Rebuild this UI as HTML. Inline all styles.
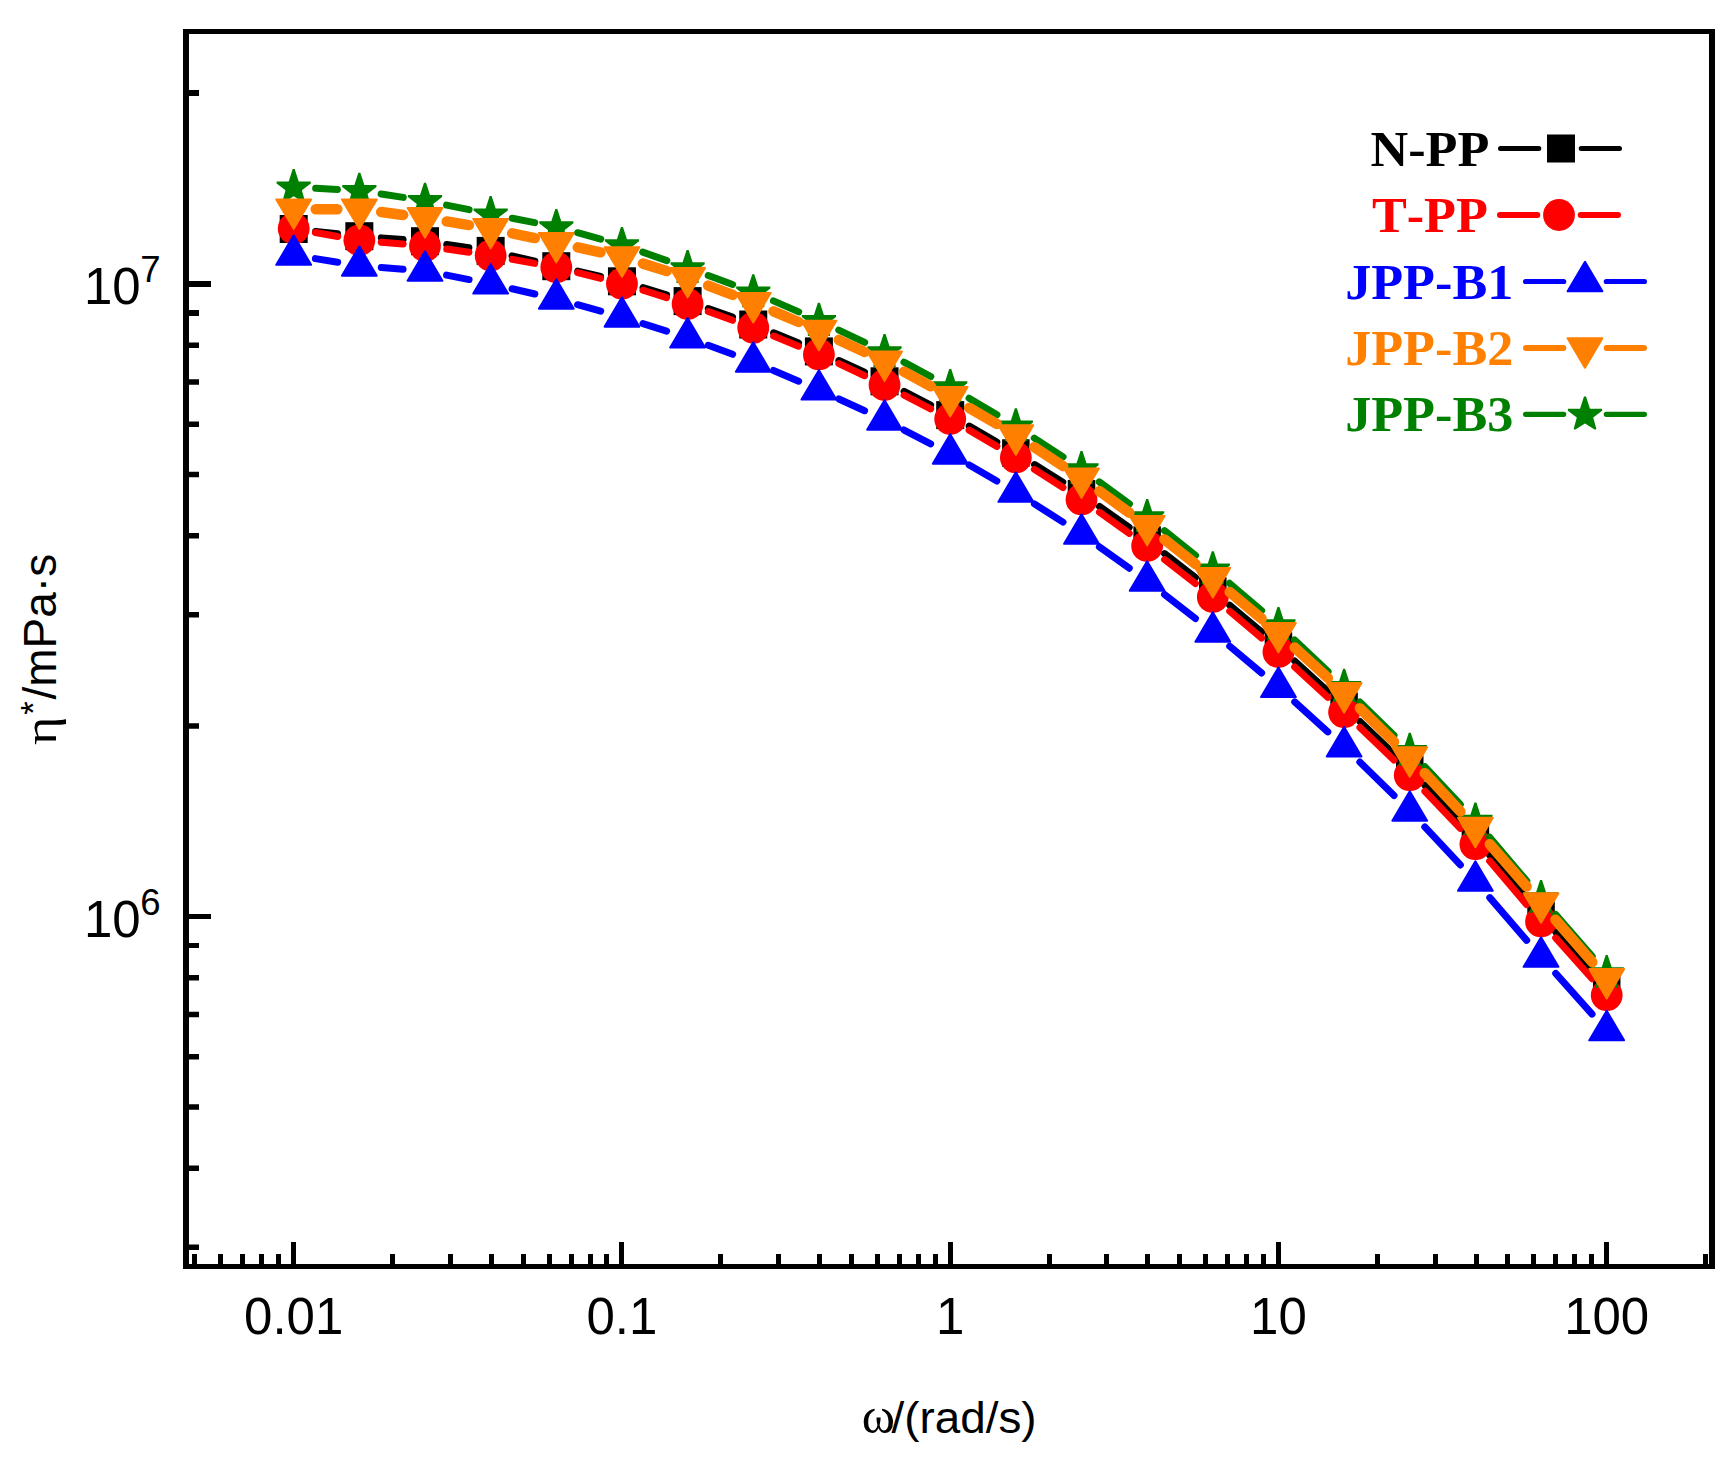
<!DOCTYPE html>
<html><head><meta charset="utf-8"><title>Complex viscosity vs angular frequency</title>
<style>html,body{margin:0;padding:0;background:#fff}svg{display:block}</style></head>
<body><svg width="1736" height="1466" viewBox="0 0 1736 1466">
<rect width="1736" height="1466" fill="#fff"/>
<path d="M315.57 231.4L337.48 233.8M381.29 237.87L403.06 239.53M446.76 244.42L468.89 247.68M512.08 255.89L534.87 261.21M577.74 271.13L600.51 276.37M643.01 287.65L666.54 294.75M708.32 308.49L732.53 317.11M773.61 332.84L798.54 343.06M838.92 360.52L864.53 372.18M904.11 391.37L930.64 405.03M969.25 426.1L996.8 442M1034.55 464.59L1062.8 482.11M1099.47 506.4L1129.18 527.4M1164.54 553.58L1195.41 577.52M1229.65 605.14L1261.6 631.96M1294.68 660.96L1327.87 691.34M1359.96 721.45L1393.89 754.05M1424.91 785.24L1460.24 822.36M1489.66 855.05L1526.79 898.65M1555.67 931.84L1592.08 972.76" stroke="#000000" stroke-width="7" stroke-linecap="round" fill="none"/>
<rect x="279.7" y="215" width="28" height="28" fill="#000000"/><rect x="345.35" y="222.2" width="28" height="28" fill="#000000"/><rect x="411" y="227.2" width="28" height="28" fill="#000000"/><rect x="476.65" y="236.9" width="28" height="28" fill="#000000"/><rect x="542.3" y="252.2" width="28" height="28" fill="#000000"/><rect x="607.95" y="267.3" width="28" height="28" fill="#000000"/><rect x="673.6" y="287.1" width="28" height="28" fill="#000000"/><rect x="739.25" y="310.5" width="28" height="28" fill="#000000"/><rect x="804.9" y="337.4" width="28" height="28" fill="#000000"/><rect x="870.55" y="367.3" width="28" height="28" fill="#000000"/><rect x="936.2" y="401.1" width="28" height="28" fill="#000000"/><rect x="1002.1" y="439.25" width="27.5" height="27.5" fill="#000000"/><rect x="1067.75" y="479.95" width="27.5" height="27.5" fill="#000000"/><rect x="1133.4" y="526.35" width="27.5" height="27.5" fill="#000000"/><rect x="1199.05" y="577.25" width="27.5" height="27.5" fill="#000000"/><rect x="1264.7" y="632.35" width="27.5" height="27.5" fill="#000000"/><rect x="1330.35" y="692.45" width="27.5" height="27.5" fill="#000000"/><rect x="1396" y="755.55" width="27.5" height="27.5" fill="#000000"/><rect x="1461.65" y="824.55" width="27.5" height="27.5" fill="#000000"/><rect x="1527.3" y="901.65" width="27.5" height="27.5" fill="#000000"/><rect x="1592.95" y="975.45" width="27.5" height="27.5" fill="#000000"/>
<path d="M315.36 232.46L337.69 236.44M381.27 242.17L403.08 244.03M446.77 249.05L468.88 252.25M512.3 259.32L534.65 263.38M577.64 272.63L600.61 278.37M642.96 290.23L666.59 297.57M708.29 311.57L732.56 320.33M773.64 336.06L798.51 346.14M838.84 363.69L864.61 375.71M904.09 395.12L930.66 408.88M969.18 430.13L996.87 446.37M1034.39 469.34L1062.96 487.56M1099.43 512.15L1129.22 533.35M1164.54 559.58L1195.41 583.52M1229.65 611.14L1261.6 637.96M1294.68 666.96L1327.87 697.34M1359.96 727.45L1393.89 760.05M1424.91 791.24L1460.24 828.36M1489.66 861.05L1526.79 904.65M1555.67 937.84L1592.08 978.76" stroke="#ff0000" stroke-width="7" stroke-linecap="round" fill="none"/>
<circle cx="293.7" cy="228.6" r="15.9" fill="#ff0000"/><circle cx="359.35" cy="240.3" r="15.9" fill="#ff0000"/><circle cx="425" cy="245.9" r="15.9" fill="#ff0000"/><circle cx="490.65" cy="255.4" r="15.9" fill="#ff0000"/><circle cx="556.3" cy="267.3" r="15.9" fill="#ff0000"/><circle cx="621.95" cy="283.7" r="15.9" fill="#ff0000"/><circle cx="687.6" cy="304.1" r="15.9" fill="#ff0000"/><circle cx="753.25" cy="327.8" r="15.9" fill="#ff0000"/><circle cx="818.9" cy="354.4" r="15.9" fill="#ff0000"/><circle cx="884.55" cy="385" r="15.9" fill="#ff0000"/><circle cx="950.2" cy="419" r="15.9" fill="#ff0000"/><circle cx="1015.85" cy="457.5" r="15.9" fill="#ff0000"/><circle cx="1081.5" cy="499.4" r="15.9" fill="#ff0000"/><circle cx="1147.15" cy="546.1" r="15.9" fill="#ff0000"/><circle cx="1212.8" cy="597" r="15.9" fill="#ff0000"/><circle cx="1278.45" cy="652.1" r="15.9" fill="#ff0000"/><circle cx="1344.1" cy="712.2" r="15.9" fill="#ff0000"/><circle cx="1409.75" cy="775.3" r="15.9" fill="#ff0000"/><circle cx="1475.4" cy="844.3" r="15.9" fill="#ff0000"/><circle cx="1541.05" cy="921.4" r="15.9" fill="#ff0000"/><circle cx="1606.7" cy="995.2" r="15.9" fill="#ff0000"/>
<path d="M315.4 258.6L337.65 262.3M381.29 267.57L403.06 269.23M446.59 275.14L469.06 279.56M512.09 288.73L534.86 293.97M577.52 304.72L600.73 311.08M642.92 323.54L666.63 331.06M708.24 345.31L732.61 354.29M773.5 370.5L798.65 381.2M838.9 398.97L864.55 410.73M904.09 430.02L930.66 443.78M969.23 464.94L996.82 480.96M1034.38 503.86L1062.97 522.14M1099.39 546.81L1129.26 568.19M1164.52 594.5L1195.43 618.5M1229.65 646.14L1261.6 672.96M1294.74 701.89L1327.81 731.91M1359.83 762.08L1394.02 795.52M1424.79 826.96L1460.36 864.94M1489.78 897.65L1526.67 940.35M1555.71 973.41L1592.04 1014.09" stroke="#0000ff" stroke-width="7" stroke-linecap="round" fill="none"/>
<path d="M276.3 264.8L311.1 264.8L293.7 235.36Z" fill="#0000ff" stroke="#0000ff" stroke-width="2" stroke-linejoin="round"/><path d="M341.95 275.7L376.75 275.7L359.35 246.26Z" fill="#0000ff" stroke="#0000ff" stroke-width="2" stroke-linejoin="round"/><path d="M407.6 280.7L442.4 280.7L425 251.26Z" fill="#0000ff" stroke="#0000ff" stroke-width="2" stroke-linejoin="round"/><path d="M473.25 293.6L508.05 293.6L490.65 264.16Z" fill="#0000ff" stroke="#0000ff" stroke-width="2" stroke-linejoin="round"/><path d="M538.9 308.7L573.7 308.7L556.3 279.26Z" fill="#0000ff" stroke="#0000ff" stroke-width="2" stroke-linejoin="round"/><path d="M604.55 326.7L639.35 326.7L621.95 297.26Z" fill="#0000ff" stroke="#0000ff" stroke-width="2" stroke-linejoin="round"/><path d="M670.2 347.5L705 347.5L687.6 318.06Z" fill="#0000ff" stroke="#0000ff" stroke-width="2" stroke-linejoin="round"/><path d="M735.85 371.7L770.65 371.7L753.25 342.26Z" fill="#0000ff" stroke="#0000ff" stroke-width="2" stroke-linejoin="round"/><path d="M801.5 399.6L836.3 399.6L818.9 370.16Z" fill="#0000ff" stroke="#0000ff" stroke-width="2" stroke-linejoin="round"/><path d="M867.15 429.7L901.95 429.7L884.55 400.26Z" fill="#0000ff" stroke="#0000ff" stroke-width="2" stroke-linejoin="round"/><path d="M932.8 463.7L967.6 463.7L950.2 434.26Z" fill="#0000ff" stroke="#0000ff" stroke-width="2" stroke-linejoin="round"/><path d="M998.45 501.8L1033.25 501.8L1015.85 472.36Z" fill="#0000ff" stroke="#0000ff" stroke-width="2" stroke-linejoin="round"/><path d="M1064.1 543.8L1098.9 543.8L1081.5 514.36Z" fill="#0000ff" stroke="#0000ff" stroke-width="2" stroke-linejoin="round"/><path d="M1129.75 590.8L1164.55 590.8L1147.15 561.36Z" fill="#0000ff" stroke="#0000ff" stroke-width="2" stroke-linejoin="round"/><path d="M1195.4 641.8L1230.2 641.8L1212.8 612.36Z" fill="#0000ff" stroke="#0000ff" stroke-width="2" stroke-linejoin="round"/><path d="M1261.05 696.9L1295.85 696.9L1278.45 667.46Z" fill="#0000ff" stroke="#0000ff" stroke-width="2" stroke-linejoin="round"/><path d="M1326.7 756.5L1361.5 756.5L1344.1 727.06Z" fill="#0000ff" stroke="#0000ff" stroke-width="2" stroke-linejoin="round"/><path d="M1392.35 820.7L1427.15 820.7L1409.75 791.26Z" fill="#0000ff" stroke="#0000ff" stroke-width="2" stroke-linejoin="round"/><path d="M1458 890.8L1492.8 890.8L1475.4 861.36Z" fill="#0000ff" stroke="#0000ff" stroke-width="2" stroke-linejoin="round"/><path d="M1523.65 966.8L1558.45 966.8L1541.05 937.36Z" fill="#0000ff" stroke="#0000ff" stroke-width="2" stroke-linejoin="round"/><path d="M1589.3 1040.3L1624.1 1040.3L1606.7 1010.86Z" fill="#0000ff" stroke="#0000ff" stroke-width="2" stroke-linejoin="round"/>
<path d="M315.67 188.24L337.38 189.46M381.1 194.01L403.25 197.39M446.56 205.07L469.09 209.63M512.24 218.24L534.71 222.66M577.52 232.72L600.73 239.08M642.71 252.17L666.84 260.63M708.24 275.51L732.61 284.49M773.42 300.89L798.73 311.91M838.78 330.12L864.67 342.38M903.95 362.17L930.8 376.53M969.09 398.18L996.96 414.82M1034.28 438.11L1063.07 456.89M1099.26 481.88L1129.39 503.92M1164.37 530.59L1195.58 555.41M1229.58 583.33L1261.67 610.57M1294.46 639.89L1328.09 671.61M1359.85 702.06L1394 735.34M1424.83 766.71L1460.32 804.39M1489.63 837.18L1526.82 881.02M1555.54 914.35L1592.21 956.25" stroke="#008000" stroke-width="7" stroke-linecap="round" fill="none"/>
<polygon points="294.7,169.1 298.7,181.4 310.8,181.4 310.8,183.4 301.9,190.3 305,201.4 304.5,202.2 303.3,202.2 293.7,196.3 284.1,202.2 282.9,202.2 282.4,201.4 285.5,190.3 276.6,183.4 276.6,181.4 288.7,181.4 292.7,169.1" fill="#008000"/><polygon points="360.35,172.8 364.35,185.1 376.45,185.1 376.45,187.1 367.55,194 370.65,205.1 370.15,205.9 368.95,205.9 359.35,200 349.75,205.9 348.55,205.9 348.05,205.1 351.15,194 342.25,187.1 342.25,185.1 354.35,185.1 358.35,172.8" fill="#008000"/><polygon points="426,182.8 430,195.1 442.1,195.1 442.1,197.1 433.2,204 436.3,215.1 435.8,215.9 434.6,215.9 425,210 415.4,215.9 414.2,215.9 413.7,215.1 416.8,204 407.9,197.1 407.9,195.1 420,195.1 424,182.8" fill="#008000"/><polygon points="491.65,196.1 495.65,208.4 507.75,208.4 507.75,210.4 498.85,217.3 501.95,228.4 501.45,229.2 500.25,229.2 490.65,223.3 481.05,229.2 479.85,229.2 479.35,228.4 482.45,217.3 473.55,210.4 473.55,208.4 485.65,208.4 489.65,196.1" fill="#008000"/><polygon points="557.3,209 561.3,221.3 573.4,221.3 573.4,223.3 564.5,230.2 567.6,241.3 567.1,242.1 565.9,242.1 556.3,236.2 546.7,242.1 545.5,242.1 545,241.3 548.1,230.2 539.2,223.3 539.2,221.3 551.3,221.3 555.3,209" fill="#008000"/><polygon points="622.95,227 626.95,239.3 639.05,239.3 639.05,241.3 630.15,248.2 633.25,259.3 632.75,260.1 631.55,260.1 621.95,254.2 612.35,260.1 611.15,260.1 610.65,259.3 613.75,248.2 604.85,241.3 604.85,239.3 616.95,239.3 620.95,227" fill="#008000"/><polygon points="688.6,250 692.6,262.3 704.7,262.3 704.7,264.3 695.8,271.2 698.9,282.3 698.4,283.1 697.2,283.1 687.6,277.2 678,283.1 676.8,283.1 676.3,282.3 679.4,271.2 670.5,264.3 670.5,262.3 682.6,262.3 686.6,250" fill="#008000"/><polygon points="754.25,274.2 758.25,286.5 770.35,286.5 770.35,288.5 761.45,295.4 764.55,306.5 764.05,307.3 762.85,307.3 753.25,301.4 743.65,307.3 742.45,307.3 741.95,306.5 745.05,295.4 736.15,288.5 736.15,286.5 748.25,286.5 752.25,274.2" fill="#008000"/><polygon points="819.9,302.8 823.9,315.1 836,315.1 836,317.1 827.1,324 830.2,335.1 829.7,335.9 828.5,335.9 818.9,330 809.3,335.9 808.1,335.9 807.6,335.1 810.7,324 801.8,317.1 801.8,315.1 813.9,315.1 817.9,302.8" fill="#008000"/><polygon points="885.55,333.9 889.55,346.2 901.65,346.2 901.65,348.2 892.75,355.1 895.85,366.2 895.35,367 894.15,367 884.55,361.1 874.95,367 873.75,367 873.25,366.2 876.35,355.1 867.45,348.2 867.45,346.2 879.55,346.2 883.55,333.9" fill="#008000"/><polygon points="951.2,369 955.2,381.3 967.3,381.3 967.3,383.3 958.4,390.2 961.5,401.3 961,402.1 959.8,402.1 950.2,396.2 940.6,402.1 939.4,402.1 938.9,401.3 942,390.2 933.1,383.3 933.1,381.3 945.2,381.3 949.2,369" fill="#008000"/><polygon points="1016.85,408.2 1020.85,420.5 1032.95,420.5 1032.95,422.5 1024.05,429.4 1027.15,440.5 1026.65,441.3 1025.45,441.3 1015.85,435.4 1006.25,441.3 1005.05,441.3 1004.55,440.5 1007.65,429.4 998.75,422.5 998.75,420.5 1010.85,420.5 1014.85,408.2" fill="#008000"/><polygon points="1082.5,451 1086.5,463.3 1098.6,463.3 1098.6,465.3 1089.7,472.2 1092.8,483.3 1092.3,484.1 1091.1,484.1 1081.5,478.2 1071.9,484.1 1070.7,484.1 1070.2,483.3 1073.3,472.2 1064.4,465.3 1064.4,463.3 1076.5,463.3 1080.5,451" fill="#008000"/><polygon points="1148.15,499 1152.15,511.3 1164.25,511.3 1164.25,513.3 1155.35,520.2 1158.45,531.3 1157.95,532.1 1156.75,532.1 1147.15,526.2 1137.55,532.1 1136.35,532.1 1135.85,531.3 1138.95,520.2 1130.05,513.3 1130.05,511.3 1142.15,511.3 1146.15,499" fill="#008000"/><polygon points="1213.8,551.2 1217.8,563.5 1229.9,563.5 1229.9,565.5 1221,572.4 1224.1,583.5 1223.6,584.3 1222.4,584.3 1212.8,578.4 1203.2,584.3 1202,584.3 1201.5,583.5 1204.6,572.4 1195.7,565.5 1195.7,563.5 1207.8,563.5 1211.8,551.2" fill="#008000"/><polygon points="1279.45,606.9 1283.45,619.2 1295.55,619.2 1295.55,621.2 1286.65,628.1 1289.75,639.2 1289.25,640 1288.05,640 1278.45,634.1 1268.85,640 1267.65,640 1267.15,639.2 1270.25,628.1 1261.35,621.2 1261.35,619.2 1273.45,619.2 1277.45,606.9" fill="#008000"/><polygon points="1345.1,668.8 1349.1,681.1 1361.2,681.1 1361.2,683.1 1352.3,690 1355.4,701.1 1354.9,701.9 1353.7,701.9 1344.1,696 1334.5,701.9 1333.3,701.9 1332.8,701.1 1335.9,690 1327,683.1 1327,681.1 1339.1,681.1 1343.1,668.8" fill="#008000"/><polygon points="1410.75,732.8 1414.75,745.1 1426.85,745.1 1426.85,747.1 1417.95,754 1421.05,765.1 1420.55,765.9 1419.35,765.9 1409.75,760 1400.15,765.9 1398.95,765.9 1398.45,765.1 1401.55,754 1392.65,747.1 1392.65,745.1 1404.75,745.1 1408.75,732.8" fill="#008000"/><polygon points="1476.4,802.5 1480.4,814.8 1492.5,814.8 1492.5,816.8 1483.6,823.7 1486.7,834.8 1486.2,835.6 1485,835.6 1475.4,829.7 1465.8,835.6 1464.6,835.6 1464.1,834.8 1467.2,823.7 1458.3,816.8 1458.3,814.8 1470.4,814.8 1474.4,802.5" fill="#008000"/><polygon points="1542.05,879.9 1546.05,892.2 1558.15,892.2 1558.15,894.2 1549.25,901.1 1552.35,912.2 1551.85,913 1550.65,913 1541.05,907.1 1531.45,913 1530.25,913 1529.75,912.2 1532.85,901.1 1523.95,894.2 1523.95,892.2 1536.05,892.2 1540.05,879.9" fill="#008000"/><polygon points="1607.7,954.9 1611.7,967.2 1623.8,967.2 1623.8,969.2 1614.9,976.1 1618,987.2 1617.5,988 1616.3,988 1606.7,982.1 1597.1,988 1595.9,988 1595.4,987.2 1598.5,976.1 1589.6,969.2 1589.6,967.2 1601.7,967.2 1605.7,954.9" fill="#008000"/>
<path d="M315.7 209.2L337.35 209.2M381.16 212.06L403.19 214.94M446.7 221.4L468.95 225.1M512.17 233.29L534.78 238.11M577.8 247.38L600.45 252.32M642.93 263.62L666.62 271.08M708.15 285.56L732.7 294.94M773.51 311.38L798.64 322.02M838.84 339.89L864.61 351.91M903.89 371.69L930.86 386.31M969.2 407.89L996.85 424.01M1034.24 447.17L1063.11 466.13M1099.32 491.1L1129.33 512.8M1164.37 539.39L1195.58 564.21M1229.69 592L1261.56 618.6M1294.68 647.56L1327.87 677.94M1359.82 708.19L1394.03 741.71M1424.74 773.2L1460.41 811.5M1489.84 844.2L1526.61 886.5M1555.46 919.72L1592.29 962.18" stroke="#ff8000" stroke-width="10.5" stroke-linecap="round" fill="none"/>
<path d="M276.3 199.4L311.1 199.4L293.7 228.84Z" fill="#ff8000" stroke="#ff8000" stroke-width="2" stroke-linejoin="round"/><path d="M341.95 199.4L376.75 199.4L359.35 228.84Z" fill="#ff8000" stroke="#ff8000" stroke-width="2" stroke-linejoin="round"/><path d="M407.6 208L442.4 208L425 237.44Z" fill="#ff8000" stroke="#ff8000" stroke-width="2" stroke-linejoin="round"/><path d="M473.25 218.9L508.05 218.9L490.65 248.34Z" fill="#ff8000" stroke="#ff8000" stroke-width="2" stroke-linejoin="round"/><path d="M538.9 232.9L573.7 232.9L556.3 262.34Z" fill="#ff8000" stroke="#ff8000" stroke-width="2" stroke-linejoin="round"/><path d="M604.55 247.2L639.35 247.2L621.95 276.64Z" fill="#ff8000" stroke="#ff8000" stroke-width="2" stroke-linejoin="round"/><path d="M670.2 267.9L705 267.9L687.6 297.34Z" fill="#ff8000" stroke="#ff8000" stroke-width="2" stroke-linejoin="round"/><path d="M735.85 293L770.65 293L753.25 322.44Z" fill="#ff8000" stroke="#ff8000" stroke-width="2" stroke-linejoin="round"/><path d="M801.5 320.8L836.3 320.8L818.9 350.24Z" fill="#ff8000" stroke="#ff8000" stroke-width="2" stroke-linejoin="round"/><path d="M867.15 351.4L901.95 351.4L884.55 380.84Z" fill="#ff8000" stroke="#ff8000" stroke-width="2" stroke-linejoin="round"/><path d="M932.8 387L967.6 387L950.2 416.44Z" fill="#ff8000" stroke="#ff8000" stroke-width="2" stroke-linejoin="round"/><path d="M998.45 425.3L1033.25 425.3L1015.85 454.74Z" fill="#ff8000" stroke="#ff8000" stroke-width="2" stroke-linejoin="round"/><path d="M1064.1 468.4L1098.9 468.4L1081.5 497.84Z" fill="#ff8000" stroke="#ff8000" stroke-width="2" stroke-linejoin="round"/><path d="M1129.75 515.9L1164.55 515.9L1147.15 545.34Z" fill="#ff8000" stroke="#ff8000" stroke-width="2" stroke-linejoin="round"/><path d="M1195.4 568.1L1230.2 568.1L1212.8 597.54Z" fill="#ff8000" stroke="#ff8000" stroke-width="2" stroke-linejoin="round"/><path d="M1261.05 622.9L1295.85 622.9L1278.45 652.34Z" fill="#ff8000" stroke="#ff8000" stroke-width="2" stroke-linejoin="round"/><path d="M1326.7 683L1361.5 683L1344.1 712.44Z" fill="#ff8000" stroke="#ff8000" stroke-width="2" stroke-linejoin="round"/><path d="M1392.35 747.3L1427.15 747.3L1409.75 776.74Z" fill="#ff8000" stroke="#ff8000" stroke-width="2" stroke-linejoin="round"/><path d="M1458 817.8L1492.8 817.8L1475.4 847.24Z" fill="#ff8000" stroke="#ff8000" stroke-width="2" stroke-linejoin="round"/><path d="M1523.65 893.3L1558.45 893.3L1541.05 922.74Z" fill="#ff8000" stroke="#ff8000" stroke-width="2" stroke-linejoin="round"/><path d="M1589.3 969L1624.1 969L1606.7 998.44Z" fill="#ff8000" stroke="#ff8000" stroke-width="2" stroke-linejoin="round"/>
<path d="M183 29H1715V1269H183Z M189 34V1264H1709V34ZM189 281h22V287h-22ZM189 90h10V96h-10ZM189 914h22V919h-22ZM189 723.35h10V728.85h-10ZM189 611.97h10V617.47h-10ZM189 532.95h10V538.45h-10ZM189 471.65h10V477.15h-10ZM189 421.57h10V427.07h-10ZM189 379.23h10V384.73h-10ZM189 342.55h10V348.05h-10ZM189 310h10V316h-10ZM189 1244.47h10V1249.97h-10ZM189 1165.45h10V1170.95h-10ZM189 1104.15h10V1109.65h-10ZM189 1054.07h10V1059.57h-10ZM189 1011.73h10V1017.23h-10ZM189 975.05h10V980.55h-10ZM189 943h10V948h-10ZM192 1264v-10h5v10ZM218 1264v-10h5v10ZM240 1264v-10h5v10ZM259 1264v-10h5v10ZM276 1264v-10h5v10ZM291 1264v-22h5v22ZM390 1264v-10h5v10ZM448 1264v-10h5v10ZM489 1264v-10h5v10ZM521 1264v-10h5v10ZM547 1264v-10h5v10ZM569 1264v-10h5v10ZM588 1264v-10h5v10ZM604 1264v-10h5v10ZM619 1264v-22h5v22ZM718 1264v-10h5v10ZM776 1264v-10h5v10ZM817 1264v-10h5v10ZM849 1264v-10h5v10ZM875 1264v-10h5v10ZM897 1264v-10h5v10ZM916 1264v-10h5v10ZM933 1264v-10h5v10ZM948 1264v-22h5v22ZM1047 1264v-10h5v10ZM1104 1264v-10h5v10ZM1145 1264v-10h5v10ZM1177 1264v-10h5v10ZM1203 1264v-10h5v10ZM1225 1264v-10h5v10ZM1244 1264v-10h5v10ZM1261 1264v-10h5v10ZM1276 1264v-22h5v22ZM1375 1264v-10h5v10ZM1433 1264v-10h5v10ZM1474 1264v-10h5v10ZM1505 1264v-10h5v10ZM1531 1264v-10h5v10ZM1553 1264v-10h5v10ZM1572 1264v-10h5v10ZM1589 1264v-10h5v10ZM1604 1264v-22h5v22ZM1703 1264v-10h5v10Z" fill="#000" fill-rule="evenodd"/>
<text x="293.7" y="1333.7" font-size="51" text-anchor="middle" font-family="Liberation Sans, sans-serif">0.01</text>
<text x="621.95" y="1333.7" font-size="51" text-anchor="middle" font-family="Liberation Sans, sans-serif">0.1</text>
<text x="950.2" y="1333.7" font-size="51" text-anchor="middle" font-family="Liberation Sans, sans-serif">1</text>
<text x="1278.45" y="1333.7" font-size="51" text-anchor="middle" font-family="Liberation Sans, sans-serif">10</text>
<text x="1606.7" y="1333.7" font-size="51" text-anchor="middle" font-family="Liberation Sans, sans-serif">100</text>
<text x="83.9" y="303.6" font-size="51" font-family="Liberation Sans, sans-serif">10<tspan dx="-0.4" dy="-22" font-size="36.5">7</tspan></text>
<text x="83.9" y="937.0" font-size="51" font-family="Liberation Sans, sans-serif">10<tspan dx="-0.4" dy="-22" font-size="36.5">6</tspan></text>
<text x="861.7" y="1432.8" font-size="50.5" font-family="Liberation Serif, serif">ω</text>
<text transform="translate(891.5 1432.8) scale(1.007 0.975)" font-size="45.5" font-family="Liberation Sans, sans-serif">/(rad/s)</text>
<g transform="translate(55.8 744) rotate(-90)"><text x="-0.8" y="0" font-size="47.5" transform="scale(1.15 1)" font-family="Liberation Serif, serif">η</text><text x="29.3" y="-11.2" font-size="34.5" font-family="Liberation Sans, sans-serif">*</text><text x="44.5" y="0" font-size="46" font-family="Liberation Sans, sans-serif">/mPa·s</text></g>
<text transform="translate(1489.3 165.8) scale(1 0.975)" font-size="52.2" font-weight="bold" style="font-kerning:none" text-anchor="end" fill="#000000" font-family="Liberation Serif, serif">N-PP</text>
<path d="M1500.5 148.5H1538.8M1581.2 148.5H1619.5" stroke="#000000" stroke-width="5" stroke-linecap="round" fill="none"/>
<rect x="1547" y="134.5" width="28" height="28" fill="#000000"/>
<text transform="translate(1487.9 232.1) scale(1 0.975)" font-size="52.2" font-weight="bold" style="font-kerning:none" text-anchor="end" fill="#ff0000" font-family="Liberation Serif, serif">T-PP</text>
<path d="M1500 215H1537.3M1580.7 215H1618" stroke="#ff0000" stroke-width="6" stroke-linecap="round" fill="none"/>
<circle cx="1559" cy="215" r="15.9" fill="#ff0000"/>
<text transform="translate(1513.3 298.6) scale(1 0.975)" font-size="52.2" font-weight="bold" style="font-kerning:none" text-anchor="end" fill="#0000ff" font-family="Liberation Serif, serif">JPP-B1</text>
<path d="M1525.6 281.5H1563.7M1606.3 281.5H1644.4" stroke="#0000ff" stroke-width="5.2" stroke-linecap="round" fill="none"/>
<path d="M1567.6 291.3L1602.4 291.3L1585 261.86Z" fill="#0000ff" stroke="#0000ff" stroke-width="2" stroke-linejoin="round"/>
<text transform="translate(1513.3 364.6) scale(1 0.975)" font-size="52.2" font-weight="bold" style="font-kerning:none" text-anchor="end" fill="#ff8000" font-family="Liberation Serif, serif">JPP-B2</text>
<path d="M1526 348H1563.3M1606.7 348H1644" stroke="#ff8000" stroke-width="6" stroke-linecap="round" fill="none"/>
<path d="M1567.6 338.2L1602.4 338.2L1585 367.64Z" fill="#ff8000" stroke="#ff8000" stroke-width="2" stroke-linejoin="round"/>
<text transform="translate(1513.3 430.9) scale(1 0.975)" font-size="52.2" font-weight="bold" style="font-kerning:none" text-anchor="end" fill="#008000" font-family="Liberation Serif, serif">JPP-B3</text>
<path d="M1525.6 414.3H1563.7M1606.3 414.3H1644.4" stroke="#008000" stroke-width="5.2" stroke-linecap="round" fill="none"/>
<polygon points="1586,396.4 1590,408.7 1602.1,408.7 1602.1,410.7 1593.2,417.6 1596.3,428.7 1595.8,429.5 1594.6,429.5 1585,423.6 1575.4,429.5 1574.2,429.5 1573.7,428.7 1576.8,417.6 1567.9,410.7 1567.9,408.7 1580,408.7 1584,396.4" fill="#008000"/>
</svg></body></html>
